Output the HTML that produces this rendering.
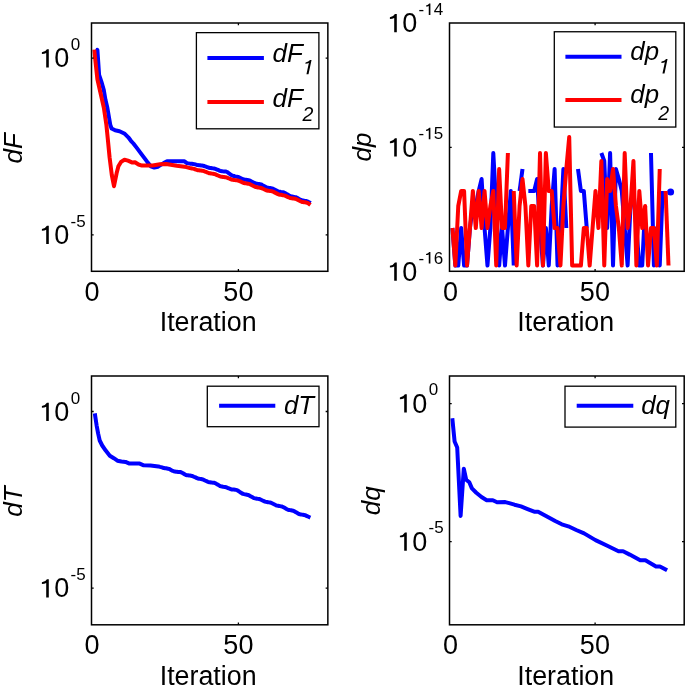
<!DOCTYPE html>
<html><head><meta charset="utf-8"><style>
html,body{margin:0;padding:0;background:#fff;width:685px;height:691px;overflow:hidden}
svg{display:block;will-change:transform}
text{font-family:"Liberation Sans",sans-serif;fill:#000}
</style></head><body>
<svg width="685" height="691" viewBox="0 0 685 691">
<defs><clipPath id="cTL"><rect x="92.25" y="23.75" width="234.85" height="246.8"/></clipPath>
<clipPath id="cTR"><rect x="450.25" y="23.75" width="233.2" height="246.8"/></clipPath>
<clipPath id="cBL"><rect x="92.25" y="376.75" width="234.85" height="247.3"/></clipPath>
<clipPath id="cBR"><rect x="450.25" y="376.75" width="233.2" height="247.3"/></clipPath></defs>
<rect width="685" height="691" fill="#fff"/>
<polyline clip-path="url(#cTL)" points="94.90,57.00 97.40,49.80 99.10,75.00 101.80,83.00 103.80,90.00 105.50,100.00 107.30,107.50 110.30,125.00 111.60,128.50 115.10,130.30 119.50,131.20 124.80,133.80 128.30,137.30 130.90,140.80 133.40,143.50 136.80,147.90 142.00,154.90 147.30,161.90 150.80,166.30 154.30,167.60 157.80,166.70 160.00,165.40 164.70,162.50 167.00,161.30 184.50,161.30 186.90,163.10 190.00,163.64 191.00,163.73 192.00,163.83 193.00,163.97 194.00,164.14 195.00,164.31 196.00,164.58 197.00,164.93 198.00,165.11 199.00,165.23 200.00,165.34 201.00,165.46 202.00,165.57 203.00,165.69 204.00,166.01 205.00,166.36 206.00,166.69 207.00,167.04 208.00,167.43 209.00,167.82 210.00,167.96 211.00,168.10 212.00,168.24 213.00,168.37 214.00,168.51 215.00,168.73 216.00,169.15 217.00,169.56 218.00,169.97 219.00,170.39 220.00,170.82 221.00,171.10 222.00,171.24 223.00,171.38 224.00,171.52 225.00,171.53 226.00,171.50 227.00,171.95 228.00,172.66 229.00,173.36 230.00,174.06 231.00,174.77 232.00,175.47 233.00,175.75 234.00,175.99 235.00,176.34 236.00,176.62 237.00,176.77 238.00,176.94 239.00,177.39 240.00,177.84 241.00,178.29 242.00,178.74 243.00,179.19 244.00,179.55 245.00,179.70 246.00,179.84 247.00,179.96 248.00,180.10 249.00,180.28 250.00,180.63 251.00,181.15 252.00,181.68 253.00,182.20 254.00,182.73 255.00,183.26 256.00,183.54 257.00,183.71 258.00,183.89 259.00,184.06 260.00,184.23 261.00,184.41 262.00,184.91 263.00,185.44 264.00,185.97 265.00,186.50 266.00,187.03 267.00,187.52 268.00,187.70 269.00,187.88 270.00,188.05 271.00,188.23 272.00,188.41 273.00,188.69 274.00,189.21 275.00,189.74 276.00,190.26 277.00,190.79 278.00,191.32 279.00,191.67 280.00,191.84 281.00,192.01 282.00,192.15 283.00,192.32 284.00,192.52 285.00,193.00 286.00,193.60 287.00,194.21 288.00,194.81 289.00,195.41 290.00,196.01 291.00,196.26 292.00,196.46 293.00,196.68 294.00,196.90 295.00,197.10 296.00,197.31 297.00,197.84 298.00,198.37 299.00,198.90 300.00,199.43 301.00,199.96 302.00,200.39 303.00,200.56 304.00,200.74 305.00,200.90 306.00,201.08 307.00,201.26 308.00,201.63 309.00,202.18 310.00,202.73 310.70,203.12" fill="none" stroke="#0000ff" stroke-width="4.0" stroke-linejoin="round" stroke-linecap="butt"/>
<polyline clip-path="url(#cTL)" points="94.20,49.60 97.40,79.40 99.60,89.00 102.10,100.00 103.80,107.50 106.40,125.00 107.90,140.00 109.60,157.50 111.80,175.00 114.00,186.20 116.60,173.30 118.40,166.30 121.00,161.90 124.50,159.70 128.00,160.60 132.40,162.60 135.00,162.30 138.50,164.50 142.00,165.60 152.60,165.40 160.00,164.30 166.30,164.00 176.80,165.80 186.40,167.10 190.00,168.10 191.00,168.26 192.00,168.42 193.00,168.64 194.00,168.91 195.00,169.24 196.00,169.59 197.00,169.97 198.00,170.18 199.00,170.31 200.00,170.44 201.00,170.56 202.00,170.69 203.00,170.82 204.00,171.18 205.00,171.56 206.00,171.94 207.00,172.32 208.00,172.75 209.00,173.17 210.00,173.32 211.00,173.47 212.00,173.62 213.00,173.77 214.00,173.92 215.00,174.16 216.00,174.61 217.00,175.06 218.00,175.52 219.00,175.96 220.00,176.37 221.00,176.65 222.00,176.79 223.00,176.92 224.00,177.06 225.00,177.20 226.00,177.34 227.00,177.67 228.00,178.08 229.00,178.50 230.00,178.92 231.00,179.32 232.00,179.71 233.00,179.86 234.00,179.99 235.00,180.12 236.00,180.25 237.00,180.38 238.00,180.54 239.00,180.93 240.00,181.26 241.00,181.69 242.00,182.18 243.00,182.67 244.00,183.06 245.00,183.23 246.00,183.39 247.00,183.55 248.00,183.71 249.00,183.88 250.00,184.22 251.00,184.74 252.00,185.25 253.00,185.76 254.00,186.27 255.00,186.79 256.00,187.06 257.00,187.23 258.00,187.42 259.00,187.61 260.00,187.77 261.00,187.92 262.00,188.35 263.00,188.80 264.00,189.25 265.00,189.70 266.00,190.16 267.00,190.58 268.00,190.73 269.00,190.88 270.00,191.00 271.00,191.14 272.00,191.31 273.00,191.59 274.00,192.10 275.00,192.61 276.00,193.12 277.00,193.64 278.00,194.15 279.00,194.49 280.00,194.66 281.00,194.84 282.00,195.04 283.00,195.22 284.00,195.37 285.00,195.72 286.00,196.17 287.00,196.62 288.00,197.07 289.00,197.52 290.00,197.97 291.00,198.15 292.00,198.30 293.00,198.43 294.00,198.55 295.00,198.71 296.00,198.91 297.00,199.43 298.00,199.95 299.00,200.47 300.00,200.98 301.00,201.50 302.00,201.91 303.00,202.09 304.00,202.26 305.00,202.33 306.00,202.46 307.00,202.69 308.00,203.17 309.00,203.87 310.00,204.58 310.50,204.94" fill="none" stroke="#ff0000" stroke-width="4.0" stroke-linejoin="round" stroke-linecap="butt"/>
<rect x="91.5" y="23" width="236.35" height="248.30" fill="none" stroke="#000" stroke-width="1.5"/><path d="M91.5,58.1h2.2M327.85,58.1h-2.2" stroke="#000" stroke-width="1.3"/><path d="M91.5,234.8h2.2M327.85,234.8h-2.2" stroke="#000" stroke-width="1.3"/><path d="M238.4,271.3v-2.2M238.4,23v2.2" stroke="#000" stroke-width="1.3"/>
<path d="M0,0 L2.6,0 L2.6,-18.25 L0.75,-18.25 Q-0.6,-15.7 -4.3,-15.05 L-4.3,-13.35 Q-1.7,-13.5 0,-14.3 Z" transform="translate(46.20,67.40) skewX(0.0) scale(1.0)" fill="#000"/><text x="54.25" y="67.40" font-size="27">0</text><text x="70.64" y="50.10" font-size="17">0</text>
<path d="M0,0 L2.6,0 L2.6,-18.25 L0.75,-18.25 Q-0.6,-15.7 -4.3,-15.05 L-4.3,-13.35 Q-1.7,-13.5 0,-14.3 Z" transform="translate(46.20,244.10) skewX(0.0) scale(1.0)" fill="#000"/><text x="54.25" y="244.10" font-size="27">0</text><text x="70.54" y="226.80" font-size="17">-</text><text x="76.21" y="226.80" font-size="17">5</text>
<text x="84.49" y="300.70" font-size="27">0</text>
<text x="223.37" y="300.70" font-size="27">50</text>
<text x="159.72" y="331.30" font-size="26.8">Iteration</text>
<text transform="translate(21.94,163.47) rotate(-90)" font-size="26" font-style="italic">dF</text>
<rect x="196.4" y="32.65" width="122.50" height="96.15" fill="#fff" stroke="#000" stroke-width="1.3"/>
<line x1="207.4" y1="57.9" x2="263.9" y2="57.9" stroke="#0000ff" stroke-width="4"/>
<line x1="207.4" y1="101.9" x2="263.9" y2="101.9" stroke="#ff0000" stroke-width="4"/>
<text x="272.52" y="61.90" font-size="26" font-style="italic">dF</text>
<path d="M0,0 L2.6,0 L2.6,-18.25 L0.75,-18.25 Q-0.6,-15.7 -4.3,-15.05 L-4.3,-13.35 Q-1.7,-13.5 0,-14.3 Z" transform="translate(306.46,74.30) skewX(-12) scale(0.7835616438356164)" fill="#000"/>
<text x="272.52" y="107.40" font-size="26" font-style="italic">dF</text>
<text x="302.61" y="120.90" font-size="19.5" font-style="italic">2</text>
<polyline clip-path="url(#cTR)" points="452.42,228.00 455.34,265.50 458.26,265.50 461.18,228.00 464.10,265.50 467.02,265.50 469.94,228.00 472.86,206.00 475.78,206.00 478.70,191.00 481.62,179.00 484.54,228.00 487.46,265.50 490.38,228.00 493.30,153.00 496.22,206.00 499.14,265.50 502.06,228.00 504.98,265.50 507.90,228.00 510.82,191.00 513.74,265.50" fill="none" stroke="#0000ff" stroke-width="4.0" stroke-linejoin="round" stroke-linecap="butt"/>
<polyline clip-path="url(#cTR)" points="519.58,191.00 522.50,169.00" fill="none" stroke="#0000ff" stroke-width="4.0" stroke-linejoin="round" stroke-linecap="butt"/>
<polyline clip-path="url(#cTR)" points="528.34,191.00 531.26,191.00 534.18,191.00 537.10,179.00 540.02,228.00 542.94,265.50 545.86,228.00 548.78,265.50 551.70,206.00 554.62,169.00 557.54,265.50 560.46,228.00 563.38,169.00 566.30,228.00" fill="none" stroke="#0000ff" stroke-width="4.0" stroke-linejoin="round" stroke-linecap="butt"/>
<polyline clip-path="url(#cTR)" points="577.98,169.00 580.90,191.00 583.82,191.00 586.74,228.00" fill="none" stroke="#0000ff" stroke-width="4.0" stroke-linejoin="round" stroke-linecap="butt"/>
<polyline clip-path="url(#cTR)" points="601.34,153.00 604.26,161.00 607.18,228.00 610.10,153.00 613.02,265.50 615.94,169.00 618.86,179.00 621.78,191.00 624.70,228.00 627.62,265.50 630.54,206.00 633.46,191.00 636.38,228.00 639.30,265.50 642.22,265.50 645.14,206.00" fill="none" stroke="#0000ff" stroke-width="4.0" stroke-linejoin="round" stroke-linecap="butt"/>
<polyline clip-path="url(#cTR)" points="650.98,153.00 653.90,265.50 656.82,228.00 659.74,265.50 662.66,191.00" fill="none" stroke="#0000ff" stroke-width="4.0" stroke-linejoin="round" stroke-linecap="butt"/>
<circle cx="670.6" cy="192" r="3.5" fill="#0000ff"/>
<polyline clip-path="url(#cTR)" points="452.42,228.00 455.34,265.50 458.26,206.00 461.18,191.00 464.10,191.00 467.02,265.50 469.94,228.00 472.86,191.00 475.78,228.00 478.70,191.00 481.62,228.00 484.54,191.00 487.46,228.00 490.38,206.00 493.30,191.00 496.22,265.50 499.14,169.00 502.06,228.00 504.98,228.00 507.90,153.00" fill="none" stroke="#ff0000" stroke-width="4.0" stroke-linejoin="round" stroke-linecap="butt"/>
<polyline clip-path="url(#cTR)" points="513.74,191.00 516.66,265.50 519.58,206.00 522.50,179.00 525.42,206.00 528.34,265.50 531.26,206.00 534.18,206.00 537.10,265.50 540.02,153.00 542.94,265.50 545.86,153.00 548.78,191.00 551.70,191.00 554.62,228.00 557.54,228.00 560.46,265.50 563.38,206.00 566.30,169.00 569.22,137.00 572.14,265.50 575.06,265.50 577.98,265.50 580.90,265.50 583.82,228.00 586.74,228.00 589.66,265.50 592.58,228.00 595.50,191.00 598.42,228.00 601.34,161.00 604.26,265.50 607.18,179.00 610.10,191.00 613.02,169.00 615.94,206.00 618.86,228.00 621.78,265.50 624.70,153.00 627.62,228.00 630.54,206.00 633.46,161.00 636.38,265.50 639.30,191.00 642.22,228.00 645.14,206.00 648.06,265.50 650.98,228.00 653.90,228.00 656.82,265.50 659.74,169.00" fill="none" stroke="#ff0000" stroke-width="4.0" stroke-linejoin="round" stroke-linecap="butt"/>
<polyline clip-path="url(#cTR)" points="665.58,191.00 668.50,265.50" fill="none" stroke="#ff0000" stroke-width="4.0" stroke-linejoin="round" stroke-linecap="butt"/>
<rect x="449.5" y="23" width="234.70" height="248.30" fill="none" stroke="#000" stroke-width="1.5"/><path d="M449.5,147.3h2.2M684.2,147.3h-2.2" stroke="#000" stroke-width="1.3"/><path d="M595.1,271.3v-2.2M595.1,23v2.2" stroke="#000" stroke-width="1.3"/>
<path d="M0,0 L2.6,0 L2.6,-18.25 L0.75,-18.25 Q-0.6,-15.7 -4.3,-15.05 L-4.3,-13.35 Q-1.7,-13.5 0,-14.3 Z" transform="translate(394.20,32.30) skewX(0.0) scale(1.0)" fill="#000"/><text x="402.25" y="32.30" font-size="27">0</text><text x="418.54" y="15.00" font-size="17">-</text><path d="M0,0 L2.6,0 L2.6,-18.25 L0.75,-18.25 Q-0.6,-15.7 -4.3,-15.05 L-4.3,-13.35 Q-1.7,-13.5 0,-14.3 Z" transform="translate(428.76,15.00) skewX(0.0) scale(0.6296296296296297)" fill="#000"/><text x="433.66" y="15.00" font-size="17">4</text>
<path d="M0,0 L2.6,0 L2.6,-18.25 L0.75,-18.25 Q-0.6,-15.7 -4.3,-15.05 L-4.3,-13.35 Q-1.7,-13.5 0,-14.3 Z" transform="translate(394.20,156.60) skewX(0.0) scale(1.0)" fill="#000"/><text x="402.25" y="156.60" font-size="27">0</text><text x="418.54" y="139.30" font-size="17">-</text><path d="M0,0 L2.6,0 L2.6,-18.25 L0.75,-18.25 Q-0.6,-15.7 -4.3,-15.05 L-4.3,-13.35 Q-1.7,-13.5 0,-14.3 Z" transform="translate(428.76,139.30) skewX(0.0) scale(0.6296296296296297)" fill="#000"/><text x="433.66" y="139.30" font-size="17">5</text>
<path d="M0,0 L2.6,0 L2.6,-18.25 L0.75,-18.25 Q-0.6,-15.7 -4.3,-15.05 L-4.3,-13.35 Q-1.7,-13.5 0,-14.3 Z" transform="translate(394.20,280.80) skewX(0.0) scale(1.0)" fill="#000"/><text x="402.25" y="280.80" font-size="27">0</text><text x="418.54" y="263.50" font-size="17">-</text><path d="M0,0 L2.6,0 L2.6,-18.25 L0.75,-18.25 Q-0.6,-15.7 -4.3,-15.05 L-4.3,-13.35 Q-1.7,-13.5 0,-14.3 Z" transform="translate(428.76,263.50) skewX(0.0) scale(0.6296296296296297)" fill="#000"/><text x="433.66" y="263.50" font-size="17">6</text>
<text x="442.89" y="300.70" font-size="27">0</text>
<text x="579.87" y="300.70" font-size="27">50</text>
<text x="517.32" y="331.40" font-size="26.8">Iteration</text>
<text transform="translate(370.62,161.48) rotate(-90)" font-size="26" font-style="italic">dp</text>
<rect x="554.3" y="31.75" width="121.50" height="95.30" fill="#fff" stroke="#000" stroke-width="1.3"/>
<line x1="565.4" y1="56.8" x2="621.5" y2="56.8" stroke="#0000ff" stroke-width="4"/>
<line x1="565.4" y1="100.1" x2="621.5" y2="100.1" stroke="#ff0000" stroke-width="4"/>
<text x="630.33" y="59.90" font-size="25.8" font-style="italic">dp</text>
<path d="M0,0 L2.6,0 L2.6,-18.25 L0.75,-18.25 Q-0.6,-15.7 -4.3,-15.05 L-4.3,-13.35 Q-1.7,-13.5 0,-14.3 Z" transform="translate(662.46,73.40) skewX(-12) scale(0.7835616438356164)" fill="#000"/>
<text x="630.33" y="103.30" font-size="25.8" font-style="italic">dp</text>
<text x="658.31" y="119.50" font-size="19.5" font-style="italic">2</text>
<polyline clip-path="url(#cBL)" points="94.80,413.40 96.60,425.30 98.10,433.40 99.70,440.50 102.20,445.50 105.70,450.60 109.80,455.70 113.80,458.20 117.40,460.70 121.40,461.50 125.50,461.90 129.50,463.60 139.70,463.60 143.70,465.30 150.50,465.50 158.40,466.40 160.00,466.88 161.00,467.12 162.00,467.41 163.00,467.75 164.00,468.06 165.00,468.20 166.00,468.33 167.00,468.51 168.00,468.70 169.00,468.88 170.00,469.34 171.00,469.96 172.00,470.53 173.00,470.93 174.00,471.27 175.00,471.59 176.00,471.70 177.00,471.81 178.00,471.93 179.00,471.96 180.00,471.96 181.00,472.24 182.00,472.78 183.00,473.33 184.00,473.87 185.00,474.42 186.00,474.97 187.00,475.17 188.00,475.31 189.00,475.45 190.00,475.59 191.00,475.73 192.00,475.92 193.00,476.34 194.00,476.77 195.00,477.15 196.00,477.62 197.00,478.16 198.00,478.51 199.00,478.69 200.00,478.87 201.00,479.05 202.00,479.23 203.00,479.41 204.00,479.95 205.00,480.50 206.00,480.96 207.00,481.38 208.00,481.80 209.00,482.17 210.00,482.31 211.00,482.45 212.00,482.60 213.00,482.69 214.00,482.72 215.00,483.05 216.00,483.64 217.00,484.22 218.00,484.81 219.00,485.40 220.00,485.98 221.00,486.22 222.00,486.43 223.00,486.70 224.00,486.90 225.00,487.03 226.00,487.23 227.00,487.63 228.00,488.02 229.00,488.42 230.00,488.81 231.00,489.21 232.00,489.44 233.00,489.57 234.00,489.61 235.00,489.69 236.00,489.88 237.00,490.10 238.00,490.74 239.00,491.39 240.00,492.05 241.00,492.71 242.00,493.36 243.00,493.89 244.00,494.12 245.00,494.36 246.00,494.57 247.00,494.76 248.00,494.94 249.00,495.37 250.00,495.93 251.00,496.48 252.00,497.04 253.00,497.60 254.00,498.15 255.00,498.35 256.00,498.53 257.00,498.69 258.00,498.85 259.00,499.01 260.00,499.28 261.00,499.75 262.00,500.22 263.00,500.69 264.00,501.16 265.00,501.63 266.00,501.89 267.00,502.05 268.00,502.22 269.00,502.39 270.00,502.56 271.00,502.74 272.00,503.24 273.00,503.75 274.00,504.25 275.00,504.76 276.00,505.26 277.00,505.63 278.00,505.80 279.00,505.97 280.00,506.16 281.00,506.35 282.00,506.53 283.00,507.00 284.00,507.55 285.00,508.11 286.00,508.67 287.00,509.22 288.00,509.74 289.00,509.94 290.00,510.13 291.00,510.33 292.00,510.52 293.00,510.72 294.00,511.09 295.00,511.67 296.00,512.26 297.00,512.84 298.00,513.43 299.00,514.01 300.00,514.29 301.00,514.46 302.00,514.62 303.00,514.78 304.00,514.93 305.00,515.14 306.00,515.61 307.00,516.08 308.00,516.55 309.00,517.02 310.00,517.50 310.40,517.68" fill="none" stroke="#0000ff" stroke-width="4.0" stroke-linejoin="round" stroke-linecap="butt"/>
<rect x="91.5" y="376" width="236.35" height="248.80" fill="none" stroke="#000" stroke-width="1.5"/><path d="M91.5,411.5h2.2M327.85,411.5h-2.2" stroke="#000" stroke-width="1.3"/><path d="M91.5,588.2h2.2M327.85,588.2h-2.2" stroke="#000" stroke-width="1.3"/><path d="M238.4,624.8v-2.2M238.4,376v2.2" stroke="#000" stroke-width="1.3"/>
<path d="M0,0 L2.6,0 L2.6,-18.25 L0.75,-18.25 Q-0.6,-15.7 -4.3,-15.05 L-4.3,-13.35 Q-1.7,-13.5 0,-14.3 Z" transform="translate(46.20,421.00) skewX(0.0) scale(1.0)" fill="#000"/><text x="54.25" y="421.00" font-size="27">0</text><text x="70.64" y="403.70" font-size="17">0</text>
<path d="M0,0 L2.6,0 L2.6,-18.25 L0.75,-18.25 Q-0.6,-15.7 -4.3,-15.05 L-4.3,-13.35 Q-1.7,-13.5 0,-14.3 Z" transform="translate(46.20,597.40) skewX(0.0) scale(1.0)" fill="#000"/><text x="54.25" y="597.40" font-size="27">0</text><text x="70.54" y="580.10" font-size="17">-</text><text x="76.21" y="580.10" font-size="17">5</text>
<text x="84.49" y="654.00" font-size="27">0</text>
<text x="223.37" y="654.00" font-size="27">50</text>
<text x="159.72" y="684.70" font-size="26.8">Iteration</text>
<text transform="translate(22.31,516.63) rotate(-90)" font-size="26" font-style="italic">dT</text>
<rect x="207.3" y="386.2" width="111.70" height="40.50" fill="#fff" stroke="#000" stroke-width="1.3"/>
<line x1="219.1" y1="405.7" x2="275.3" y2="405.7" stroke="#0000ff" stroke-width="4"/>
<text x="284.03" y="414.40" font-size="25.8" font-style="italic">dT</text>
<polyline clip-path="url(#cBR)" points="452.30,418.30 454.60,441.50 457.20,447.50 460.60,515.90 463.80,468.70 466.20,479.70 469.30,482.30 471.90,488.40 476.30,492.70 481.50,497.00 486.70,500.20 492.80,500.20 497.10,502.30 505.30,502.10 509.20,503.10 514.50,504.70 521.00,506.40 527.60,509.10 534.20,511.70 538.10,511.70 546.00,516.00 555.20,521.00 561.80,524.30 568.30,526.30 576.20,530.00 584.10,533.40 595.50,540.10 607.30,545.80 618.50,551.30 623.10,551.30 629.70,554.60 640.20,560.20 645.40,560.20 656.00,566.40 659.90,566.40 667.10,570.30" fill="none" stroke="#0000ff" stroke-width="4.0" stroke-linejoin="round" stroke-linecap="butt"/>
<rect x="449.5" y="376" width="234.70" height="248.80" fill="none" stroke="#000" stroke-width="1.5"/><path d="M449.5,403.6h2.2M684.2,403.6h-2.2" stroke="#000" stroke-width="1.3"/><path d="M449.5,541.6h2.2M684.2,541.6h-2.2" stroke="#000" stroke-width="1.3"/><path d="M595.1,624.8v-2.2M595.1,376v2.2" stroke="#000" stroke-width="1.3"/>
<path d="M0,0 L2.6,0 L2.6,-18.25 L0.75,-18.25 Q-0.6,-15.7 -4.3,-15.05 L-4.3,-13.35 Q-1.7,-13.5 0,-14.3 Z" transform="translate(404.20,412.50) skewX(0.0) scale(1.0)" fill="#000"/><text x="412.25" y="412.50" font-size="27">0</text><text x="428.64" y="395.20" font-size="17">0</text>
<path d="M0,0 L2.6,0 L2.6,-18.25 L0.75,-18.25 Q-0.6,-15.7 -4.3,-15.05 L-4.3,-13.35 Q-1.7,-13.5 0,-14.3 Z" transform="translate(404.20,550.70) skewX(0.0) scale(1.0)" fill="#000"/><text x="412.25" y="550.70" font-size="27">0</text><text x="428.54" y="533.40" font-size="17">-</text><text x="434.21" y="533.40" font-size="17">5</text>
<text x="442.89" y="654.00" font-size="27">0</text>
<text x="579.87" y="654.00" font-size="27">50</text>
<text x="517.32" y="684.70" font-size="26.8">Iteration</text>
<text transform="translate(379.52,515.31) rotate(-90)" font-size="26" font-style="italic">dq</text>
<rect x="565" y="386.2" width="110.80" height="40.90" fill="#fff" stroke="#000" stroke-width="1.3"/>
<line x1="576.7" y1="405.7" x2="633.3" y2="405.7" stroke="#0000ff" stroke-width="4"/>
<text x="641.23" y="413.80" font-size="25.8" font-style="italic">dq</text>
</svg>
</body></html>
